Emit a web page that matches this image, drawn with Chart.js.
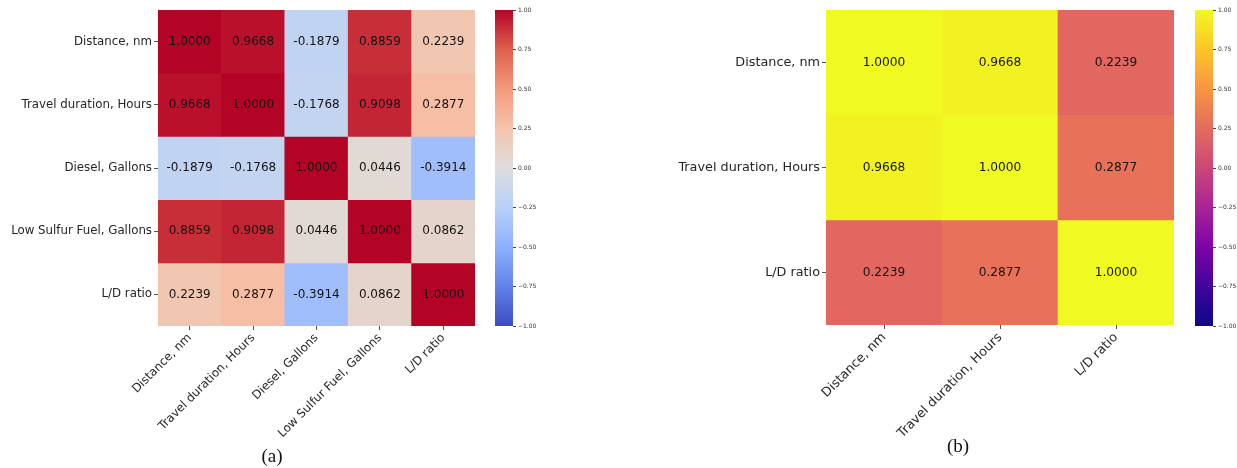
<!DOCTYPE html>
<html>
<head>
<meta charset="utf-8">
<script src="https://cdn.jsdelivr.net/npm/chart.js@4.4.1/dist/chart.umd.min.js"></script>
<style>
  html, body { margin: 0; padding: 0; background: #fff; }
  #wrap { position: relative; width: 1237px; height: 468px; overflow: hidden; }
  canvas { position: absolute; top: 0; }
  .cap { position: absolute; font-family: "Liberation Serif", "Times New Roman", serif; font-size: 19px; line-height: 20px; color: #111; transform: translateX(-50%); }
</style>
</head>
<body>
<div id="wrap">
  <canvas id="heatA" width="480" height="468" style="left:0px"></canvas>
  <canvas id="barA" width="50" height="468" style="left:495px"></canvas>
  <canvas id="heatB" width="580" height="468" style="left:600px"></canvas>
  <canvas id="barB" width="42" height="468" style="left:1195px"></canvas>
  <div class="cap" style="left:272px; top:446px">(a)</div>
  <div class="cap" style="left:958px; top:436px">(b)</div>
</div>
<script>
// ---- variables and correlation coefficients ----
const varsA = ['Distance, nm', 'Travel duration, Hours', 'Diesel, Gallons', 'Low Sulfur Fuel, Gallons', 'L/D ratio'];
const distanceA   = [1.0000, 0.9668, -0.1879, 0.8859, 0.2239];
const durationA   = [0.9668, 1.0000, -0.1768, 0.9098, 0.2877];
const dieselA     = [-0.1879, -0.1768, 1.0000, 0.0446, -0.3914];
const lowSulfurA  = [0.8859, 0.9098, 0.0446, 1.0000, 0.0862];
const ldRatioA    = [0.2239, 0.2877, -0.3914, 0.0862, 1.0000];

const varsB = ['Distance, nm', 'Travel duration, Hours', 'L/D ratio'];
const distanceB = [1.0000, 0.9668, 0.2239];
const durationB = [0.9668, 1.0000, 0.2877];
const ldRatioB  = [0.2239, 0.2877, 1.0000];

const colorbarTicks = [-1, -0.75, -0.5, -0.25, 0, 0.25, 0.5, 0.75, 1];

// ---- colormaps (anchor stops, linear interpolation between them) ----
const coolwarmStops = [
  [0.000, [59, 76, 192]], [0.125, [98, 130, 234]], [0.250, [141, 176, 254]],
  [0.375, [184, 208, 249]], [0.500, [221, 221, 221]], [0.625, [245, 196, 173]],
  [0.750, [244, 154, 123]], [0.875, [222, 96, 77]], [1.000, [180, 4, 38]]
];
const plasmaStops = [
  [0.000, [13, 8, 135]], [0.125, [65, 4, 157]], [0.250, [126, 3, 168]],
  [0.375, [170, 35, 149]], [0.500, [204, 71, 120]], [0.625, [229, 107, 93]],
  [0.750, [248, 149, 64]], [0.875, [253, 196, 39]], [1.000, [240, 249, 33]]
];
function colormap(stops) {
  return function (v) {
    const t = Math.min(1, Math.max(0, (v + 1) / 2));
    for (let i = 1; i < stops.length; i++) {
      if (t <= stops[i][0]) {
        const [t0, c0] = stops[i - 1], [t1, c1] = stops[i];
        const f = (t - t0) / (t1 - t0);
        const c = c0.map((x, k) => Math.round(x + (c1[k] - x) * f));
        return `rgb(${c[0]},${c[1]},${c[2]})`;
      }
    }
    const c = stops[stops.length - 1][1];
    return `rgb(${c[0]},${c[1]},${c[2]})`;
  };
}
const coolwarm = colormap(coolwarmStops);
const plasma = colormap(plasmaStops);

const LABEL_COLOR = '#262626';
const SANS = "'DejaVu Sans', sans-serif";

// ---- heatmap: one floating-bar dataset per row, overlapping in each column ----
function heatmap(id, labels, rows, cmap, cfg) {
  const cellText = {
    id: 'cellText',
    afterDatasetsDraw(chart) {
      const { ctx, scales: { x, y } } = chart;
      ctx.save();
      ctx.font = `${cfg.cellFont}px ${SANS}`;
      ctx.fillStyle = '#141414';
      ctx.textAlign = 'center';
      ctx.textBaseline = 'middle';
      rows.forEach((row, r) => row.forEach((v, c) => {
        ctx.fillText(v.toFixed(4), x.getPixelForValue(c), y.getPixelForValue(r + 0.5));
      }));
      ctx.restore();
    }
  };
  return new Chart(document.getElementById(id), {
    type: 'bar',
    data: {
      labels: labels,
      datasets: rows.map((row, r) => ({
        data: row.map(() => [r, r + 1]),
        backgroundColor: row.map(v => cmap(v)),
        borderWidth: 0,
        barPercentage: 1,
        categoryPercentage: 1,
        grouped: false
      }))
    },
    options: {
      responsive: false,
      animation: false,
      devicePixelRatio: 1,
      layout: { padding: { top: cfg.top, right: cfg.right, left: 0, bottom: 0 } },
      plugins: { legend: { display: false }, tooltip: { enabled: false } },
      scales: {
        x: {
          type: 'category',
          offset: true,
          grid: { offset: false, drawOnChartArea: false, drawTicks: true, tickLength: 4, color: '#555' },
          border: { display: false },
          ticks: { autoSkip: false, minRotation: 45, maxRotation: 45, padding: 1, color: LABEL_COLOR, font: { family: SANS, size: cfg.labelFont } },
          afterFit(s) { s.height = cfg.xHeight; }
        },
        y: {
          type: 'linear',
          min: 0,
          max: labels.length,
          reverse: true,
          afterBuildTicks(s) { s.ticks = labels.map((_, i) => ({ value: i + 0.5 })); },
          grid: { drawOnChartArea: false, drawTicks: true, tickLength: 4, color: '#555' },
          border: { display: false },
          ticks: { padding: 2, color: LABEL_COLOR, font: { family: SANS, size: cfg.labelFont }, callback: (v, i) => labels[i] },
          afterFit(s) { s.width = cfg.yWidth; }
        }
      }
    },
    plugins: [cellText]
  });
}

// ---- colorbar: a single floating bar from -1 to 1 filled with the colormap ----
function colorbar(id, stops, cfg) {
  return new Chart(document.getElementById(id), {
    type: 'bar',
    data: {
      labels: [''],
      datasets: [{
        data: [[-1, 1]],
        borderWidth: 0,
        barPercentage: 1,
        categoryPercentage: 1,
        backgroundColor(context) {
          const area = context.chart.chartArea;
          if (!area) return null;
          const g = context.chart.ctx.createLinearGradient(0, area.bottom, 0, area.top);
          stops.forEach(([t, c]) => g.addColorStop(t, `rgb(${c[0]},${c[1]},${c[2]})`));
          return g;
        }
      }]
    },
    options: {
      responsive: false,
      animation: false,
      devicePixelRatio: 1,
      layout: { padding: { top: cfg.top, bottom: cfg.bottom, left: 0, right: 0 } },
      plugins: { legend: { display: false }, tooltip: { enabled: false } },
      scales: {
        x: { display: false },
        y: {
          position: 'right',
          min: -1,
          max: 1,
          afterBuildTicks(s) { s.ticks = colorbarTicks.map(v => ({ value: v })); },
          grid: { drawOnChartArea: false, drawTicks: true, tickLength: 3, color: '#444' },
          border: { display: false },
          ticks: {
            padding: 2, color: '#333', font: { family: SANS, size: 6 },
            callback: v => (v < 0 ? '\u2212' : '') + Math.abs(v).toFixed(2)
          },
          afterFit(s) { s.width = cfg.width; }
        }
      }
    }
  });
}

heatmap('heatA', varsA, [distanceA, durationA, dieselA, lowSulfurA, ldRatioA], coolwarm,
  { top: 10, right: 5, yWidth: 158, xHeight: 142, labelFont: 11.8, cellFont: 12 });
colorbar('barA', coolwarmStops, { top: 10, bottom: 142, width: 32 });

heatmap('heatB', varsB, [distanceB, durationB, ldRatioB], plasma,
  { top: 10, right: 6, yWidth: 226, xHeight: 143, labelFont: 12.8, cellFont: 12.2 });
colorbar('barB', plasmaStops, { top: 10, bottom: 142, width: 24 });
</script>
</body>
</html>
